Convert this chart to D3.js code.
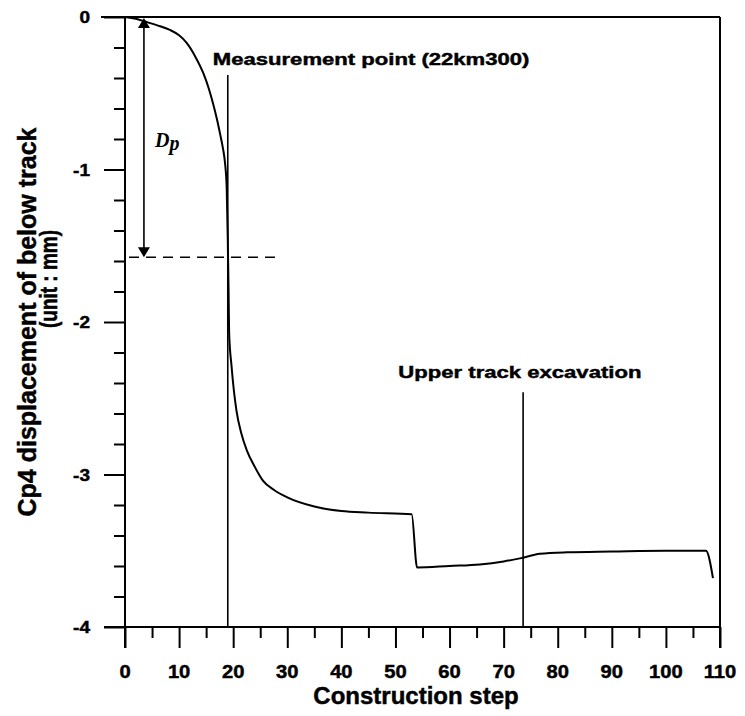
<!DOCTYPE html>
<html>
<head>
<meta charset="utf-8">
<script src="https://cdn.jsdelivr.net/npm/d3@7"></script>
<style>
  body { margin: 0; background: #fff; }
  svg { display: block; }
  text.lbl { font-family: "Liberation Sans", Arial, sans-serif; font-weight: bold; fill: #000; stroke: #000; stroke-width: 0.45px; }
</style>
</head>
<body>
<svg id="chart" width="745" height="716"></svg>
<script>
// Data
const steps = [0, 2, 3.7, 6, 8.3, 10, 11.4, 13, 14.5, 15.5, 16.3, 17, 17.6, 18.1, 18.5, 18.8, 19.0, 19.15, 19.25, 19.7, 20.6, 21.5, 22.5, 24, 25.5, 27.5, 30, 35, 40, 45, 53, 54, 60, 65.6, 70, 73, 76.7, 81.7, 90, 100, 107.4, 108.7];
const disp  = [0, -0.012, -0.03, -0.055, -0.085, -0.12, -0.17, -0.26, -0.37, -0.47, -0.57, -0.67, -0.77, -0.86, -0.96, -1.12, -1.45, -1.8, -2.07, -2.29, -2.58, -2.73, -2.84, -2.95, -3.04, -3.10, -3.15, -3.21, -3.24, -3.25, -3.26, -3.61, -3.60, -3.59, -3.57, -3.55, -3.52, -3.51, -3.505, -3.50, -3.50, -3.68];

const xMajor = [0, 10, 20, 30, 40, 50, 60, 70, 80, 90, 100, 110];
const xMinor = [5, 15, 25, 35, 45, 55, 65, 75, 85, 95, 105];
const yMajor = [0, -1, -2, -3, -4];
const yMinor = [-0.2, -0.4, -0.6, -0.8, -1.2, -1.4, -1.6, -1.8, -2.2, -2.4, -2.6, -2.8, -3.2, -3.4, -3.6, -3.8];

// annotations (data units)
const markers = [
  { step: 19,   top: -0.38, label: "Measurement point (22km300)", lx: 45.5, ly: -0.315 },
  { step: 73.6, top: -2.46, label: "Upper track excavation",      lx: 73,   ly: -2.37 }
];
const dpArrow = { step: 3.5, from: 0, to: -1.575, dashEnd: 28.5 };

const svg = d3.select("#chart");

const x = d3.scaleLinear().domain([0, 110]).range([125, 720]);
const y = d3.scaleLinear().domain([0, -4]).range([17, 627]);

const majorLen = 21, minorLen = 11;

function ticks(g) {
  g.select(".domain").remove();
  g.selectAll("line").attr("stroke", "#000").attr("stroke-width", 2);
}

// x axis ticks
svg.append("g")
    .attr("transform", `translate(0,${y(-4)})`)
    .call(d3.axisBottom(x).tickValues(xMajor).tickSize(majorLen).tickFormat(""))
    .call(ticks);
svg.append("g")
    .attr("transform", `translate(0,${y(-4)})`)
    .call(d3.axisBottom(x).tickValues(xMinor).tickSize(minorLen).tickFormat(""))
    .call(ticks);

// y axis ticks
svg.append("g")
    .attr("transform", `translate(${x(0)},0)`)
    .call(d3.axisLeft(y).tickValues(yMajor).tickSize(majorLen).tickFormat(""))
    .call(ticks);
svg.append("g")
    .attr("transform", `translate(${x(0)},0)`)
    .call(d3.axisLeft(y).tickValues(yMinor).tickSize(minorLen).tickFormat(""))
    .call(ticks);

// frame lines
const frame = svg.append("g").attr("stroke", "#000").attr("stroke-width", 2);
frame.append("line").attr("x1", x(0) - majorLen).attr("x2", x(110)).attr("y1", y(-4)).attr("y2", y(-4));
frame.append("line").attr("x1", x(0) - 24).attr("x2", x(110)).attr("y1", y(0)).attr("y2", y(0));
frame.append("line").attr("x1", x(0)).attr("x2", x(0)).attr("y1", y(0)).attr("y2", y(-4) + majorLen);
frame.append("line").attr("x1", x(110)).attr("x2", x(110)).attr("y1", y(0)).attr("y2", y(-4) + majorLen);

// tick labels (slightly wide bold face)
svg.append("g").selectAll("g")
  .data(xMajor)
  .join("g")
    .attr("transform", d => `translate(${x(d)},678) scale(1.12,1)`)
  .append("text")
    .attr("class", "lbl")
    .attr("text-anchor", "middle")
    .attr("font-size", 18)
    .text(d => d);

svg.append("g").selectAll("g")
  .data(yMajor)
  .join("g")
    .attr("transform", d => `translate(90,${y(d) + 6}) scale(1.12,1)`)
  .append("text")
    .attr("class", "lbl")
    .attr("text-anchor", "end")
    .attr("font-size", 17)
    .text(d => d);

// axis titles
svg.append("text")
    .attr("class", "lbl")
    .attr("x", 416).attr("y", 704)
    .attr("text-anchor", "middle")
    .attr("font-size", 24)
    .text("Construction step");

svg.append("text")
    .attr("class", "lbl")
    .attr("transform", `translate(36,322) rotate(-90)`)
    .attr("text-anchor", "middle")
    .attr("font-size", 25)
    .text("Cp4 displacement of below track");
svg.append("text")
    .attr("class", "lbl")
    .attr("transform", `translate(57,279) rotate(-90) scale(1,1.3)`)
    .attr("text-anchor", "middle")
    .attr("font-size", 19)
    .text("(unit : mm)");

// marker lines + labels
markers.forEach(m => {
  svg.append("line")
      .attr("x1", x(m.step)).attr("x2", x(m.step))
      .attr("y1", y(m.top)).attr("y2", y(-4))
      .attr("stroke", "#000").attr("stroke-width", 1.6);
  svg.append("g")
      .attr("transform", `translate(${x(m.lx)},${y(m.ly)}) scale(1.3,1)`)
    .append("text")
      .attr("class", "lbl")
      .attr("text-anchor", "middle")
      .attr("font-size", 17)
      .text(m.label);
});

// Dp dimension arrow
const ax = x(dpArrow.step);
svg.append("line")
    .attr("x1", x(0) + 4).attr("x2", x(dpArrow.dashEnd))
    .attr("y1", y(dpArrow.to)).attr("y2", y(dpArrow.to))
    .attr("stroke", "#000").attr("stroke-width", 1.6)
    .attr("stroke-dasharray", "10,7");
svg.append("line")
    .attr("x1", ax).attr("x2", ax)
    .attr("y1", y(dpArrow.from) + 8).attr("y2", y(dpArrow.to) - 8)
    .attr("stroke", "#000").attr("stroke-width", 1.6);
const ah = 10, aw = 6;
svg.append("path")
    .attr("d", `M${ax},${y(dpArrow.from) + 1}L${ax - aw},${y(dpArrow.from) + 1 + ah}L${ax + aw},${y(dpArrow.from) + 1 + ah}Z`)
    .attr("fill", "#000");
svg.append("path")
    .attr("d", `M${ax},${y(dpArrow.to)}L${ax - aw},${y(dpArrow.to) - ah}L${ax + aw},${y(dpArrow.to) - ah}Z`)
    .attr("fill", "#000");
const dp = svg.append("text")
    .attr("x", 155).attr("y", 147)
    .style("font-family", "'Liberation Serif', 'Times New Roman', serif")
    .style("font-style", "italic")
    .style("font-weight", "bold")
    .attr("font-size", 20)
    .attr("fill", "#000");
dp.append("tspan").text("D");
dp.append("tspan").attr("dy", 3).text("p");

// the curve
const pts = steps.map((s, i) => [s, disp[i]]);
svg.append("path")
    .datum(pts)
    .attr("fill", "none")
    .attr("stroke", "#000")
    .attr("stroke-width", 2)
    .attr("d", d3.line().x(d => x(d[0])).y(d => y(d[1])).curve(d3.curveMonotoneX));
</script>
</body>
</html>
